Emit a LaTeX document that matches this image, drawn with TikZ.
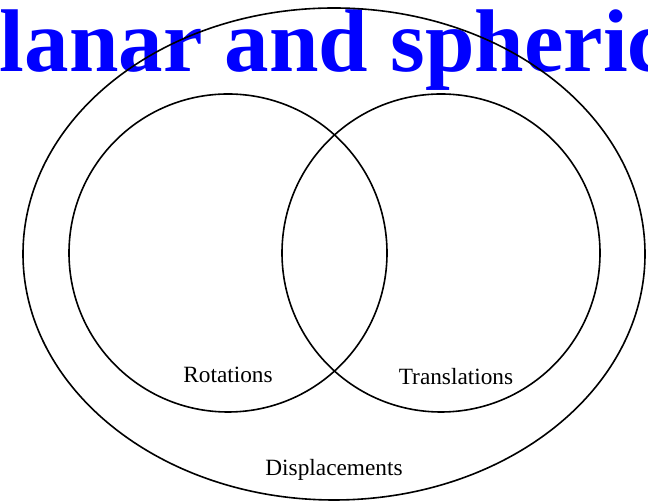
\documentclass[tikz,border=0pt]{standalone}
\usepackage{fontspec}
\setmainfont{Liberation Serif}
\begin{document}
\begin{tikzpicture}[x=1pt,y=1pt,
  setline/.style={draw=black,line width=1.6pt},
  lbl/.style={font=\fontsize{23.3}{28}\selectfont,inner sep=0pt},
  ttl/.style={font=\fontsize{89}{100}\selectfont\bfseries,text=blue,inner sep=0pt,anchor=base}]
\useasboundingbox (0,0) rectangle (648,502);
\clip (0,0) rectangle (648,502);
\node[ttl] (title) at (341,430) {Planar and spherical};
\draw[setline] (334,248) ellipse [x radius=311, y radius=246];
\draw[setline] (228,249) circle [radius=159];
\draw[setline] (441,249) circle [radius=159];
\node[lbl] (rot) at (228,127) {Rotations};
\node[lbl] (tra) at (456,125) {Translations};
\node[lbl] (dis) at (334,32) {Displacements};
\end{tikzpicture}
\end{document}
